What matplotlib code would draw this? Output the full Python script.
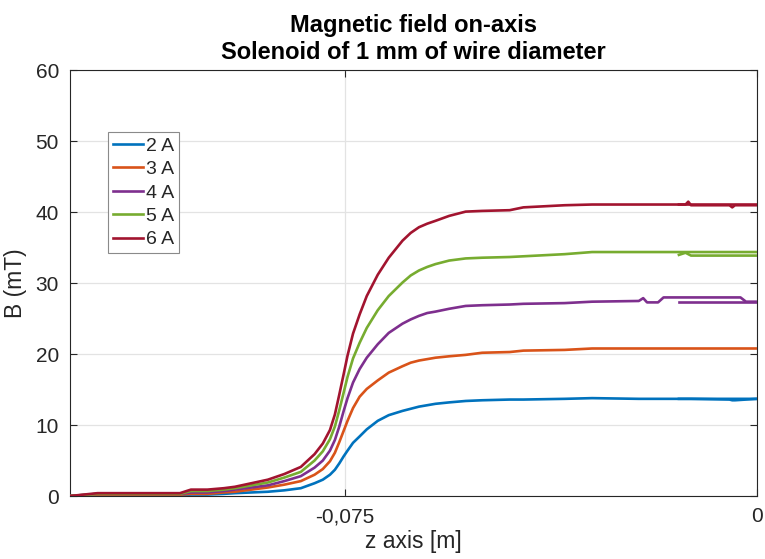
import matplotlib
matplotlib.use("Agg")
import matplotlib.pyplot as plt

# Position along the solenoid axis [m]
z = [-0.125, -0.120, -0.115, -0.110, -0.105, -0.103, -0.100, -0.097, -0.095,
     -0.092, -0.089, -0.086, -0.083, -0.0805, -0.079, -0.0777, -0.0768, -0.076,
     -0.0752, -0.0745, -0.0735, -0.0723, -0.071, -0.069, -0.067, -0.0645,
     -0.063, -0.0615, -0.060, -0.0585, -0.056, -0.053, -0.050, -0.045, -0.0425,
     -0.035, -0.030, -0.0215, -0.0207, -0.020, -0.018, -0.017, -0.010, -0.003,
     -0.002, 0.0]

# Measured field B [mT] for each coil current
b_2a = [0.0, 0.1, 0.1, 0.1, 0.1, 0.2, 0.2, 0.3, 0.4, 0.5, 0.6, 0.8, 1.1,
        1.8, 2.3, 3.0, 3.7, 4.6, 5.6, 6.4, 7.5, 8.4, 9.4,
        10.6, 11.4, 12.0, 12.3, 12.6, 12.8, 13.0, 13.2, 13.4, 13.5,
        13.6, 13.6, 13.7, 13.8,
        13.7, 13.7, 13.7, 13.7, 13.7, 13.7, 13.7, 13.7, 13.7]
b_3a = [0.0, 0.2, 0.2, 0.2, 0.2, 0.3, 0.3, 0.5, 0.6, 0.9, 1.2, 1.6, 2.1,
        3.0, 3.8, 4.9, 6.1, 7.6, 9.2, 10.6, 12.4, 14.0, 15.1,
        16.3, 17.4, 18.3, 18.8, 19.1, 19.3, 19.5, 19.7, 19.9, 20.2,
        20.3, 20.5, 20.6, 20.8,
        20.8, 20.8, 20.8, 20.8, 20.8, 20.8, 20.8, 20.8, 20.8]
b_4a = [0.0, 0.3, 0.3, 0.3, 0.3, 0.5, 0.5, 0.7, 0.9, 1.2, 1.5, 2.1, 2.8,
        4.0, 5.0, 6.4, 7.9, 9.8, 12.0, 13.8, 16.0, 17.9, 19.5,
        21.4, 23.0, 24.3, 24.9, 25.4, 25.8, 26.0, 26.4, 26.8, 26.9,
        27.0, 27.1, 27.2, 27.4,
        27.5, 27.9, 27.3, 27.3, 28.0, 28.0, 28.0, 27.4, 27.4]
b_5a = [0.0, 0.3, 0.3, 0.3, 0.3, 0.7, 0.7, 0.9, 1.1, 1.5, 1.9, 2.6, 3.4,
        5.0, 6.3, 8.0, 9.8, 12.1, 14.6, 16.8, 19.4, 21.6, 23.7,
        26.2, 28.2, 30.1, 31.1, 31.8, 32.3, 32.7, 33.2, 33.5, 33.6,
        33.7, 33.8, 34.1, 34.4,
        34.4, 34.4, 34.4, 34.4, 34.4, 34.4, 34.4, 34.4, 34.4]
b_6a = [0.0, 0.4, 0.4, 0.4, 0.4, 0.9, 0.9, 1.1, 1.3, 1.8, 2.3, 3.1, 4.1,
        5.9, 7.4, 9.3, 11.5, 14.3, 17.2, 19.8, 22.9, 25.6, 28.2,
        31.2, 33.6, 36.0, 37.1, 37.9, 38.4, 38.8, 39.5, 40.1, 40.2,
        40.3, 40.7, 41.0, 41.1,
        41.1, 41.1, 41.1, 41.1, 41.1, 41.1, 41.1, 41.1, 41.1]

# Return sweep near the end of the travel
z_back = [0.0, -0.004, -0.0045, -0.005, -0.012, -0.0125, -0.013, -0.0142]
b_2a_back = [13.7, 13.5, 13.5, 13.6, 13.7, 13.7, 13.7, 13.7]
b_4a_back = [27.3, 27.3, 27.3, 27.3, 27.3, 27.3, 27.3, 27.3]
b_5a_back = [33.9, 33.9, 33.9, 33.9, 33.9, 34.1, 34.3, 34.0]
b_6a_back = [41.0, 41.0, 40.7, 41.0, 41.0, 41.5, 41.1, 41.1]

labels = ["2 A", "3 A", "4 A", "5 A", "6 A"]
colors = ["#0072BD", "#D95319", "#7E2F8E", "#77AC30", "#A2142F"]
series = [b_2a, b_3a, b_4a, b_5a, b_6a]
returns = [(b_2a_back, colors[0]), (b_4a_back, colors[2]),
           (b_5a_back, colors[3]), (b_6a_back, colors[4])]

plt.rcParams["font.family"] = ["Liberation Sans", "DejaVu Sans"]
fig = plt.figure(figsize=(7.65, 5.59), dpi=100)
ax = fig.add_axes([0.0915, 0.1127, 0.898, 0.7612])

dark = "#262626"
for b, lab, c in zip(series, labels, colors):
    ax.plot(z, b, color=c, lw=1.9, label=lab, zorder=3)
for b, c in returns:
    ax.plot(z_back, b, color=c, lw=1.9, zorder=3)

ax.set_xlim(-0.125, 0.0)
ax.set_ylim(0, 60)
ax.set_xticks([-0.075, 0.0], ["-0,075", "0"])
ax.set_yticks([0, 10, 20, 30, 40, 50, 60])
ax.grid(True, color="#e3e3e3", lw=0.9, zorder=0)
ax.tick_params(direction="in", length=5, width=0.8, colors=dark,
               labelsize=15, top=True, right=True, pad=8)
for s in ax.spines.values():
    s.set_color(dark)
    s.set_linewidth(0.8)

ax.set_xlabel("z axis [m]", fontsize=16.5, color=dark, labelpad=3)
ax.set_ylabel("B (mT)", fontsize=16.5, color=dark, labelpad=6)
ax.set_title("Magnetic field on-axis\nSolenoid of 1 mm of wire diameter",
             fontsize=17, fontweight="bold", color="black", pad=8,
             linespacing=1.25)

leg = ax.legend(loc="upper left", bbox_to_anchor=(0.055, 0.855), fontsize=14,
                frameon=True, fancybox=False, edgecolor="#8a8a8a",
                framealpha=1, handlelength=1.55, handletextpad=0.15,
                labelspacing=0.3, borderpad=0.25, borderaxespad=0)
leg.get_frame().set_linewidth(0.8)
for t in leg.get_texts():
    t.set_color(dark)

fig.savefig("out.png", dpi=100)
